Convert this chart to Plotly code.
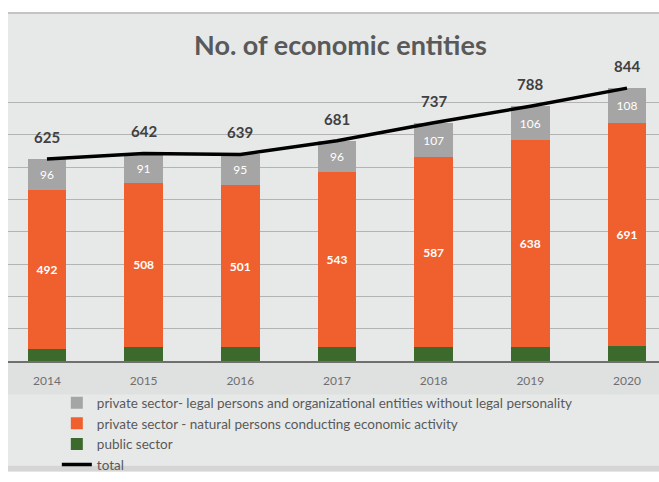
import plotly.graph_objects as go

# Number of economic entities by year and sector
years = ["2014", "2015", "2016", "2017", "2018", "2019", "2020"]
public_sector = [37, 43, 43, 42, 43, 44, 45]
natural_persons = [492, 508, 501, 543, 587, 638, 691]
legal_persons = [96, 91, 95, 96, 107, 106, 108]
totals = [625, 642, 639, 681, 737, 788, 844]

GREY = "#a5a5a5"
ORANGE = "#f0602f"
GREEN = "#3b6a2c"
TEXT = "#595959"

x_idx = list(range(len(years)))

fig = go.Figure()

fig.add_trace(go.Bar(
    x=x_idx, y=public_sector, name="public sector",
    marker=dict(color=GREEN, line=dict(width=0)),
    legendrank=3,
))
fig.add_trace(go.Bar(
    x=x_idx, y=natural_persons,
    name="private sector - natural persons conducting economic activity",
    marker=dict(color=ORANGE, line=dict(width=0)),
    text=[str(v) for v in natural_persons], textposition="inside",
    insidetextanchor="middle",
    textfont=dict(family="Lato", size=12, color="white", weight="bold"),
    legendrank=2,
))
fig.add_trace(go.Bar(
    x=x_idx, y=legal_persons,
    name="private sector- legal persons and organizational entities without legal personality",
    marker=dict(color=GREY, line=dict(width=0)),
    text=[str(v) for v in legal_persons], textposition="inside",
    insidetextanchor="middle",
    textfont=dict(family="Lato", size=12, color="white"),
    legendrank=1,
))
fig.add_trace(go.Scatter(
    x=x_idx, y=totals, name="total", mode="lines",
    line=dict(color="black", width=3.5),
    legendrank=4,
))

# Total labels above the line
for xi, t in zip(x_idx, totals):
    fig.add_annotation(
        x=xi, y=t, text=str(t), showarrow=False, yshift=22,
        font=dict(family="Lato", size=15, color="#404040", weight="bold"),
    )

# Title
fig.add_annotation(
    xref="paper", yref="paper", x=0.51, y=1.0, yshift=26,
    xanchor="center", yanchor="middle",
    text="<b>No. of economic entities</b>", showarrow=False,
    font=dict(family="Lato", size=27, color=TEXT),
)

# Chart panel background
fig.add_shape(type="rect", xref="paper", yref="paper", layer="below",
              x0=0, x1=1.02, y0=-0.38, y1=1.196,
              fillcolor="#e7e9e9", line=dict(width=0))
fig.add_shape(type="rect", xref="paper", yref="paper", layer="below",
              x0=0, x1=1.02, y0=-0.115, y1=0,
              fillcolor="#dfe0e0", line=dict(width=0))
fig.add_shape(type="line", xref="paper", yref="paper", layer="below",
              x0=0, x1=1.02, y0=1.196, y1=1.196,
              line=dict(color="#c4c4c4", width=2))
fig.add_shape(type="rect", xref="paper", yref="paper", layer="below",
              x0=0, x1=1.02, y0=-0.38, y1=-0.36,
              fillcolor="#d5d5d5", line=dict(width=0))

fig.update_layout(
    width=659, height=482,
    margin=dict(l=8, r=0, t=70, b=121),
    paper_bgcolor="white",
    plot_bgcolor="rgba(0,0,0,0)",
    barmode="stack",
    bargap=0.6,
    showlegend=True,
    legend=dict(
        x=0.075, y=0.196, xanchor="left", yanchor="top",
        xref="paper", yref="container",
        orientation="v", traceorder="normal",
        font=dict(family="Lato", size=13.5, color=TEXT),
        bgcolor="rgba(0,0,0,0)", itemwidth=30, tracegroupgap=0,
    ),
    xaxis=dict(
        tickmode="array", tickvals=x_idx, ticktext=years,
        range=[-0.403, 6.331],
        tickfont=dict(family="Lato", size=12, color="#6f6f6f"),
        ticklabelstandoff=8,
        showgrid=False, zeroline=False,
        showline=True, linecolor="#6f6f6f", linewidth=2,
        ticks="", ticklen=0,
    ),
    yaxis=dict(
        range=[0, 900], dtick=100,
        showgrid=True, gridcolor="#b3b3b3", gridwidth=1,
        showticklabels=False, zeroline=False, showline=False,
    ),
)

fig.write_html("out.html")
